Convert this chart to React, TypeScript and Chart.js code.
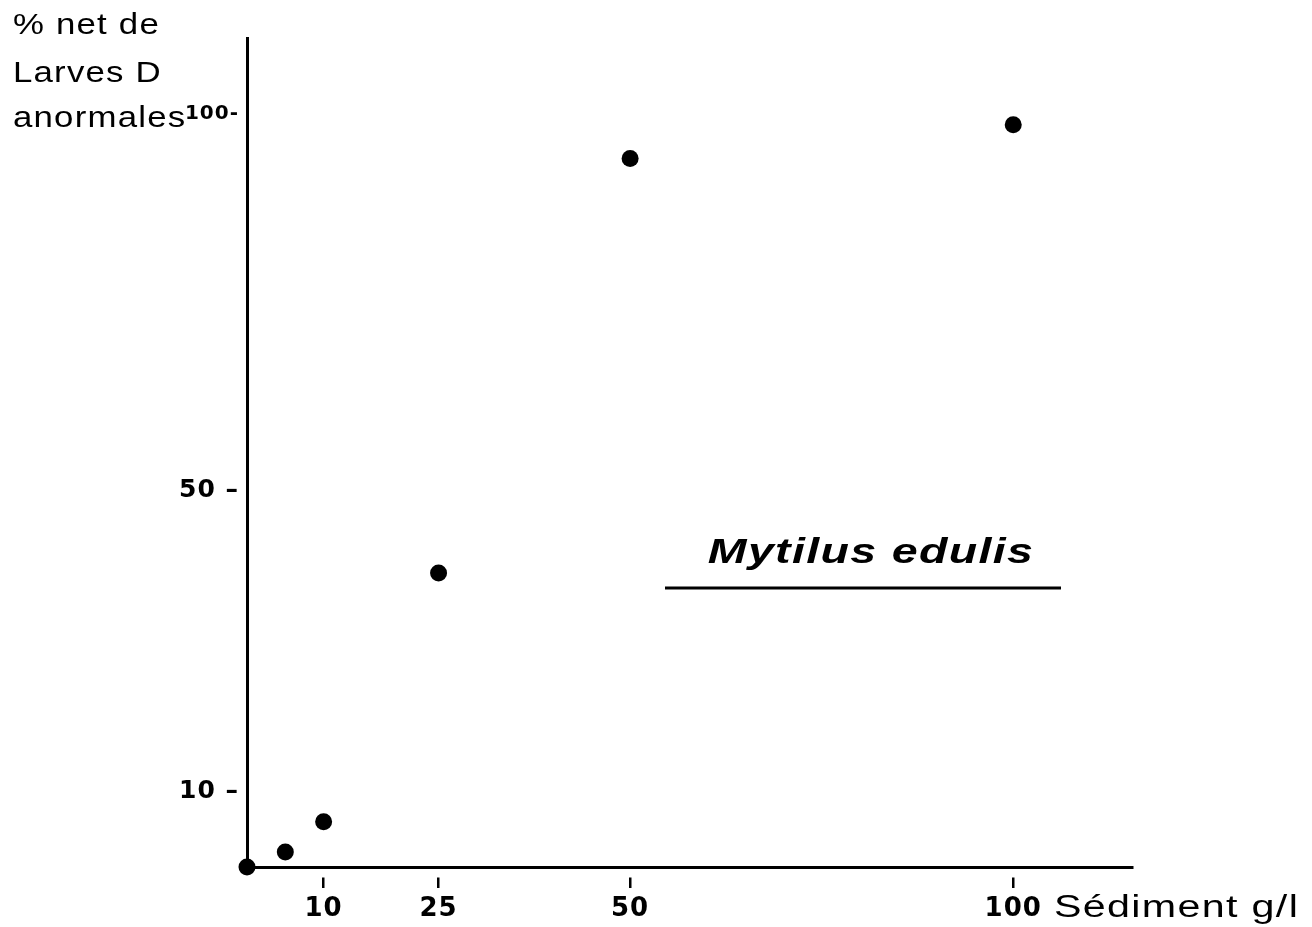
import { useEffect, useRef } from "react";
import { Chart, registerables } from "chart.js";

Chart.register(...registerables);

// ---- data ----
const sedimentGL = [0, 5, 10, 25, 50, 100];
const netAbnormalPct = [0, 2, 6, 39, 94, 98.5];
const xTickValues = [10, 25, 50, 100];
const yTickValues = [10, 50, 100];
const yTickLabels = ["10 –", "50 –", "100-"];
const yTitleLines = ["% net de", "Larves D", "anormales"];
const xTitle = "Sédiment g/l";
const speciesLabel = "Mytilus edulis";

const FONT = "'Liberation Sans', Arial, Helvetica, sans-serif";
const TICK_FONT = "'DejaVu Sans', 'Liberation Sans', sans-serif";

function drawWide(
  ctx: CanvasRenderingContext2D,
  text: string,
  x: number,
  y: number,
  font: string,
  sx: number,
  spacing: number,
  align: "left" | "center" | "right"
) {
  ctx.save();
  ctx.font = font;
  (ctx as any).letterSpacing = spacing + "px";
  ctx.textBaseline = "alphabetic";
  ctx.textAlign = "left";
  const w = ctx.measureText(text).width * sx;
  let x0 = x;
  if (align === "center") x0 = x - w / 2;
  else if (align === "right") x0 = x - w;
  ctx.translate(x0, y);
  ctx.scale(sx, 1);
  ctx.fillStyle = "#000";
  ctx.fillText(text, 0, 0);
  ctx.restore();
}

const textPlugin = {
  id: "figureText",
  beforeDraw(chart: any) {
    (chart.ctx as any).letterSpacing = "1px";
  },
  afterDraw(chart: any) {
    const ctx: CanvasRenderingContext2D = chart.ctx;
    // y axis title (three lines, top-left)
    const baselines = [34, 82, 127];
    yTitleLines.forEach((line, i) => {
      drawWide(ctx, line, 13, baselines[i], `400 29px ${FONT}`, 1.2, 1, "left");
    });
    // x axis title
    drawWide(ctx, xTitle, 1054, 917, `400 31px ${FONT}`, 1.33, 1, "left");
    // species label with underline
    drawWide(ctx, speciesLabel, 871, 563, `italic 700 35px ${FONT}`, 1.33, 1, "center");
    ctx.save();
    ctx.strokeStyle = "#000";
    ctx.lineWidth = 3;
    ctx.beginPath();
    ctx.moveTo(665, 588);
    ctx.lineTo(1061, 588);
    ctx.stroke();
    ctx.restore();
    (ctx as any).letterSpacing = "0px";
  },
};

export default function App() {
  const canvasRef = useRef<HTMLCanvasElement | null>(null);

  useEffect(() => {
    const canvas = canvasRef.current;
    if (!canvas) return;
    const chart = new Chart(canvas, {
      type: "scatter",
      data: {
        datasets: [
          {
            label: "Mytilus edulis",
            data: sedimentGL.map((x, i) => ({ x, y: netAbnormalPct[i] })),
            backgroundColor: "#000",
            borderColor: "#000",
            borderWidth: 0,
            pointRadius: 8.5,
            pointHoverRadius: 8.5,
            clip: false as any,
          },
        ],
      },
      options: {
        responsive: false,
        animation: false,
        layout: { padding: { left: 0, top: 38, right: 180, bottom: 0 } },
        plugins: {
          legend: { display: false },
          tooltip: { enabled: false },
        },
        scales: {
          x: {
            type: "linear",
            min: 0,
            max: 115.5,
            afterBuildTicks: (s: any) => {
              s.ticks = xTickValues.map((v) => ({ value: v }));
            },
            afterFit: (s: any) => {
              s.height = 60;
            },
            grid: {
              display: true,
              drawOnChartArea: false,
              drawTicks: true,
              tickLength: 21,
              color: "#000",
              lineWidth: 2.5,
              tickBorderDash: [0, 8.5, 11, 100],
            },
            border: { display: true, color: "#000", width: 3 },
            ticks: {
              color: "#000",
              autoSkip: false,
              maxRotation: 0,
              padding: 6,
              font: { family: TICK_FONT, size: 26, weight: "bold" },
              callback: (v: any) => String(v),
            },
          },
          y: {
            type: "linear",
            min: 0,
            max: 110,
            afterBuildTicks: (s: any) => {
              s.ticks = yTickValues.map((v) => ({ value: v }));
            },
            afterFit: (s: any) => {
              s.width = 247;
            },
            grid: { display: false, drawTicks: false },
            border: { display: true, color: "#000", width: 3 },
            ticks: {
              color: "#000",
              padding: 8,
              font: (c: any) => ({
                family: TICK_FONT,
                size: c.tick && c.tick.value === 100 ? 20 : 25,
                weight: "bold",
              }),
              callback: (v: any) => {
                const i = yTickValues.indexOf(Number(v));
                return i >= 0 ? yTickLabels[i] : "";
              },
            },
          },
        },
      },
      plugins: [textPlugin],
    } as any);
    return () => chart.destroy();
  }, []);

  return (
    <div
      style={{
        position: "fixed",
        left: 0,
        top: 0,
        width: 1312,
        height: 927,
        background: "#fff",
      }}
    >
      <canvas ref={canvasRef} width={1312} height={927} />
    </div>
  );
}
